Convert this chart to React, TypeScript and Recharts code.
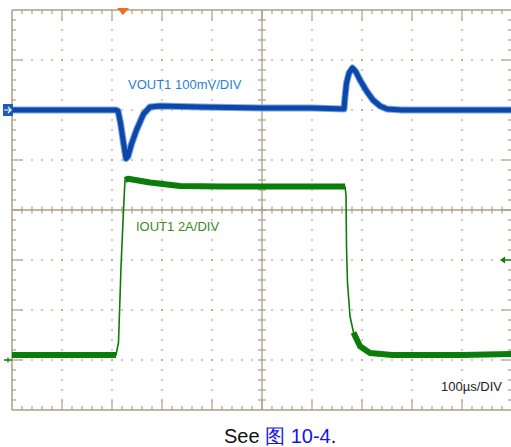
import React from 'react';
import { LineChart, Line, XAxis, YAxis, ReferenceLine, ReferenceDot } from 'recharts';

// time in µs (100 µs per division, 10 divisions)
const blueT = [0, 150, 208, 212, 217, 223, 228, 232, 239, 249, 263, 276, 296, 376, 500, 600, 664, 666, 669, 674, 681, 688, 696, 709, 722, 736, 750, 780, 900, 1000];
// VOUT1 deviation in mV (100 mV/DIV)
const blueV = [0, 0, 0, -2, -26, -66, -97, -93, -68, -40, -8, 6, 8, 6, 4, 4, 2, 26, 54, 74, 84, 76, 60, 38, 20, 8, 2, 0, 0, 0];

const greenT = [0, 208, 211, 213, 216, 218, 221, 224, 226, 232, 276, 336, 420, 600, 666, 668, 669, 671, 676, 683, 696, 716, 760, 900, 1000];
// IOUT1 in A (2 A/DIV)
const greenI = [0.2, 0.2, 0.5, 0.7, 2.5, 3.7, 5.1, 6.4, 7.2, 7.25, 7.1, 6.96, 6.94, 6.94, 6.94, 6.6, 4.5, 3.1, 1.75, 1.1, 0.55, 0.28, 0.2, 0.2, 0.24];
const greenNoisy = [1, 1, 0, 0, 0, 0, 0, 0, 1, 1, 1, 1, 1, 1, 1, 0, 0, 0, 0, 1, 1, 1, 1, 1, 1];

const timeDomain = [0, 1000];
const vDomain = [-600, 200];
const iDomain = [-2, 14];
const A_PER_DIV = 2;
const iTriggerLevel = 4;
const triggerTime = 222;

const blueData = blueT.map((t, k) => ({ t, v: blueV[k] }));
const greenData = greenT.map((t, k) => ({ t, i: greenI[k], iBand: greenNoisy[k] ? greenI[k] : null }));

const GRID = '#ab9f85';
const BLUE = '#0b48aa';
const BLUE_FRINGE = '#7ea6e2';
const GREEN = '#0a7d0a';

// graticule in division units, placed on the current axis (i axis)
const yDiv = (d: number) => iDomain[0] + d * A_PER_DIV;
const X_MINOR = 20; // 10 px
const X_SHORT = 8; // 4 px
const Y_SHORT = 0.08;
const X_LONG = 20; // 10 px
const Y_LONG = 0.2;

function buildTicks() {
  const segs: { a: { x: number; y: number }; b: { x: number; y: number } }[] = [];
  for (let k = 1; k < 50; k++) {
    const t = k * X_MINOR;
    const major = k % 5 === 0;
    const ly = major ? Y_LONG : Y_SHORT;
    segs.push({ a: { x: t, y: yDiv(8) }, b: { x: t, y: yDiv(8 - ly) } });
    segs.push({ a: { x: t, y: yDiv(0) }, b: { x: t, y: yDiv(ly) } });
    segs.push({ a: { x: t, y: yDiv(4 - 0.07) }, b: { x: t, y: yDiv(4 + 0.07) } });
  }
  for (let k = 1; k < 40; k++) {
    const d = k / 5;
    const major = k % 5 === 0;
    const lx = major ? X_LONG : X_SHORT;
    segs.push({ a: { x: 0, y: yDiv(d) }, b: { x: lx, y: yDiv(d) } });
    segs.push({ a: { x: 1000, y: yDiv(d) }, b: { x: 1000 - lx, y: yDiv(d) } });
    segs.push({ a: { x: 500 - 8, y: yDiv(d) }, b: { x: 500 + 8, y: yDiv(d) } });
  }
  return segs;
}
const tickSegs = buildTicks();

const TriggerMark = (p: any) => (
  <polygon points={`${p.cx - 6},${p.cy - 2} ${p.cx + 6},${p.cy - 2} ${p.cx},${p.cy + 5}`} fill="#f26b22" />
);
const BlueGround = (p: any) => (
  <g>
    <rect x={p.cx - 9} y={p.cy - 6} width={10} height={12} fill="#1a5cb8" />
    <path d={`M${p.cx - 8} ${p.cy} L${p.cx - 1} ${p.cy} M${p.cx - 4} ${p.cy - 3} L${p.cx - 1} ${p.cy} L${p.cx - 4} ${p.cy + 3}`} stroke="#fff" strokeWidth={1.2} fill="none" />
  </g>
);
const GreenGround = (p: any) => (
  <path d={`M${p.cx - 8} ${p.cy} L${p.cx} ${p.cy} M${p.cx - 4} ${p.cy - 2.5} L${p.cx - 4} ${p.cy + 2.5}`} stroke={GREEN} strokeWidth={1.3} fill="none" />
);
const GreenTrigger = (p: any) => (
  <g>
    <line x1={p.cx - 10} y1={p.cy} x2={p.cx + 2} y2={p.cy} stroke={GREEN} strokeWidth={1.3} />
    <polygon points={`${p.cx - 12},${p.cy} ${p.cx - 7},${p.cy - 3.5} ${p.cx - 7},${p.cy + 3.5}`} fill={GREEN} />
  </g>
);

const labelFont = '"Liberation Sans", Arial, sans-serif';

export default function App() {
  const majorX = [100, 200, 300, 400, 600, 700, 800, 900];
  const majorY = [1, 2, 3, 5, 6, 7];
  return (
    <div style={{ position: 'absolute', left: 0, top: 0, width: 511, height: 447, overflow: 'hidden', background: '#fff' }}>
      <LineChart width={512} height={447} margin={{ top: 10, right: 0, bottom: 37, left: 12 }}>
        <XAxis xAxisId="x" dataKey="t" type="number" domain={timeDomain} hide allowDataOverflow />
        <YAxis yAxisId="v" type="number" domain={vDomain} hide allowDataOverflow />
        <YAxis yAxisId="i" type="number" domain={iDomain} hide allowDataOverflow />

        {majorX.map((x) => (
          <ReferenceLine key={'gx' + x} xAxisId="x" yAxisId="i" x={x} stroke={GRID} strokeWidth={1.5} strokeDasharray="0.75 8.5 0.75 0" />
        ))}
        {majorY.map((y) => (
          <ReferenceLine key={'gy' + y} xAxisId="x" yAxisId="i" y={yDiv(y)} stroke={GRID} strokeWidth={1.5} strokeDasharray="0.75 8.5 0.75 0" />
        ))}
        <ReferenceLine xAxisId="x" yAxisId="i" x={500} stroke={GRID} strokeWidth={1.3} />
        <ReferenceLine xAxisId="x" yAxisId="i" y={yDiv(4)} stroke={GRID} strokeWidth={1.3} />
        <ReferenceLine xAxisId="x" yAxisId="i" x={0} stroke={GRID} strokeWidth={1.5} />
        <ReferenceLine xAxisId="x" yAxisId="i" x={1000} stroke={GRID} strokeWidth={1.5} />
        <ReferenceLine xAxisId="x" yAxisId="i" y={yDiv(0)} stroke={GRID} strokeWidth={1.5} />
        <ReferenceLine xAxisId="x" yAxisId="i" y={yDiv(8)} stroke={GRID} strokeWidth={1.5} />
        {tickSegs.map((s, k) => (
          <ReferenceLine key={'t' + k} xAxisId="x" yAxisId="i" segment={[s.a, s.b]} stroke={GRID} strokeWidth={1.2} />
        ))}

        <Line data={blueData} xAxisId="x" yAxisId="v" dataKey="v" type="linear" dot={false} stroke={BLUE_FRINGE} strokeWidth={7} strokeLinejoin="round" isAnimationActive={false} />
        <Line data={blueData} xAxisId="x" yAxisId="v" dataKey="v" type="linear" dot={false} stroke={BLUE} strokeWidth={5} strokeLinejoin="round" isAnimationActive={false} />
        <Line data={greenData} xAxisId="x" yAxisId="i" dataKey="iBand" type="linear" dot={false} stroke={GREEN} strokeWidth={6} strokeLinecap="butt" strokeLinejoin="round" isAnimationActive={false} />
        <Line data={greenData} xAxisId="x" yAxisId="i" dataKey="i" type="linear" dot={false} stroke={GREEN} strokeWidth={1.6} strokeLinejoin="round" isAnimationActive={false} />

        <ReferenceDot xAxisId="x" yAxisId="i" x={triggerTime} y={yDiv(8)} shape={TriggerMark} />
        <ReferenceDot xAxisId="x" yAxisId="v" x={0} y={0} shape={BlueGround} />
        <ReferenceDot xAxisId="x" yAxisId="i" x={0} y={0} shape={GreenGround} />
        <ReferenceDot xAxisId="x" yAxisId="i" x={1000} y={iTriggerLevel} shape={GreenTrigger} />
      </LineChart>

      <div style={{ position: 'absolute', left: 128, top: 78, fontFamily: labelFont, fontSize: 13, lineHeight: '13px', color: '#2a7fd2', whiteSpace: 'nowrap' }}>VOUT1 100mV/DIV</div>
      <div style={{ position: 'absolute', left: 136, top: 220, fontFamily: labelFont, fontSize: 13, lineHeight: '13px', color: '#3a8a1e', whiteSpace: 'nowrap' }}>IOUT1 2A/DIV</div>
      <div style={{ position: 'absolute', left: 441, top: 380, fontFamily: labelFont, fontSize: 13, lineHeight: '13px', color: '#222', whiteSpace: 'nowrap' }}>100µs/DIV</div>
      <div style={{ position: 'absolute', left: 224, top: 426, fontFamily: labelFont, fontSize: 20, lineHeight: '20px', color: '#111', whiteSpace: 'nowrap' }}>
        See <span style={{ color: '#1414e6' }}>图 10-4</span>.
      </div>
    </div>
  );
}
